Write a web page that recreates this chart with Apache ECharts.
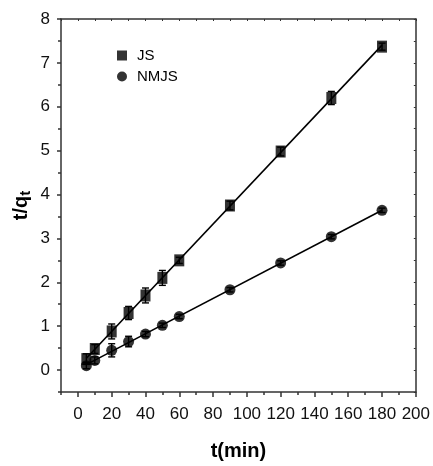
<!DOCTYPE html>
<html><head><meta charset="utf-8">
<script src="https://cdn.jsdelivr.net/npm/echarts@6/dist/echarts.min.js"></script>
<style>html,body{margin:0;padding:0;background:#fff}#c{width:433px;height:466px}</style>
</head><body><div id="c"></div>
<script>
const time = [5, 10, 20, 30, 40, 50, 60, 90, 120, 150, 180];
const jsVals = [0.25, 0.48, 0.88, 1.30, 1.70, 2.10, 2.50, 3.75, 4.98, 6.20, 7.37];
const jsErr = [0.12, 0.10, 0.17, 0.15, 0.17, 0.17, 0.07, 0.10, 0.10, 0.15, 0.08];
const nmjsVals = [0.10, 0.22, 0.45, 0.65, 0.82, 1.02, 1.22, 1.83, 2.44, 3.04, 3.64];
const nmjsErr = [0.07, 0.08, 0.15, 0.12, 0.06, 0.05, 0.05, 0.05, 0.05, 0.05, 0.05];
const xTicks = [0, 20, 40, 60, 80, 100, 120, 140, 160, 180, 200];
const xMinorTicks = [-10, 10, 30, 50, 70, 90, 110, 130, 150, 170, 190];
const yTicks = [0, 1, 2, 3, 4, 5, 6, 7, 8];
const yMinorTicks = [-0.5, 0.5, 1.5, 2.5, 3.5, 4.5, 5.5, 6.5, 7.5];

const FONT = '"Liberation Sans", Arial, sans-serif';
const AX = '#333';

function fit(xs, ys) {
  const n = xs.length;
  const mx = xs.reduce((a, b) => a + b, 0) / n;
  const my = ys.reduce((a, b) => a + b, 0) / n;
  let sxy = 0, sxx = 0;
  for (let i = 0; i < n; i++) { sxy += (xs[i] - mx) * (ys[i] - my); sxx += (xs[i] - mx) ** 2; }
  const b = sxy / sxx, a = my - b * mx;
  const x0 = xs[0], x1 = xs[n - 1];
  return [[x0, a + b * x0], [x1, a + b * x1]];
}

function pts(vals) { return time.map((t, i) => [t, vals[i]]); }
function errPts(vals, errs) { return time.map((t, i) => [t, vals[i], errs[i]]); }

function errRender(params, api) {
  const x = api.value(0), y = api.value(1), e = api.value(2);
  const top = api.coord([x, y + e]);
  const bot = api.coord([x, y - e]);
  const hw = 3.5;
  const st = { stroke: '#000', lineWidth: 1.4 };
  return {
    type: 'group',
    children: [
      { type: 'line', shape: { x1: top[0], y1: top[1], x2: bot[0], y2: bot[1] }, style: st },
      { type: 'line', shape: { x1: top[0] - hw, y1: top[1], x2: top[0] + hw, y2: top[1] }, style: st },
      { type: 'line', shape: { x1: bot[0] - hw, y1: bot[1], x2: bot[0] + hw, y2: bot[1] }, style: st }
    ]
  };
}

const allXTicks = xMinorTicks.concat(xTicks).sort((a, b) => a - b);
const allYTicks = yMinorTicks.concat(yTicks).sort((a, b) => a - b);

const chart = echarts.init(document.getElementById('c'), null, { renderer: 'canvas' });
chart.setOption({
  animation: false,
  backgroundColor: '#fff',
  textStyle: { fontFamily: FONT },
  grid: { left: 61, right: 13, top: 19, bottom: 69, containLabel: false },
  legend: {
    orient: 'vertical', left: 112, top: 43, itemGap: 6,
    itemWidth: 10, itemHeight: 10,
    textStyle: { fontFamily: FONT, fontSize: 15, color: '#000', padding: [0, 0, 0, 5] },
    data: [
      { name: 'JS', icon: 'rect', itemStyle: { color: '#000' } },
      { name: 'NMJS', icon: 'circle', itemStyle: { color: '#000' } }
    ]
  },
  xAxis: [
    {
      type: 'value', position: 'bottom', min: -10, max: 200,
      axisLine: { show: true, onZero: false, lineStyle: { color: AX, width: 1.5 } },
      axisTick: { show: true, inside: false, length: 5, customValues: xTicks, lineStyle: { color: AX, width: 1.5 } },
      axisLabel: { customValues: xTicks, fontSize: 17, color: '#111', margin: 14, fontFamily: FONT },
      splitLine: { show: false },
      name: 't(min)', nameLocation: 'middle', nameGap: 49,
      nameTextStyle: { fontSize: 20, fontWeight: 'bold', color: '#000', fontFamily: FONT }
    },
    {
      type: 'value', position: 'bottom', min: -10, max: 200,
      axisLine: { show: false, onZero: false },
      axisTick: { show: true, length: 3, customValues: xMinorTicks, lineStyle: { color: AX, width: 1.5 } },
      axisLabel: { show: false },
      splitLine: { show: false }
    },
    {
      type: 'value', position: 'top', min: -10, max: 200,
      axisLine: { show: true, onZero: false, lineStyle: { color: AX, width: 1.5 } },
      axisTick: { show: true, inside: true, length: 2, customValues: allXTicks, lineStyle: { color: AX, width: 1 } },
      axisLabel: { show: false },
      splitLine: { show: false }
    }
  ],
  yAxis: [
    {
      type: 'value', position: 'left', min: -0.5, max: 8,
      axisLine: { show: true, onZero: false, lineStyle: { color: AX, width: 1.5 } },
      axisTick: { show: true, inside: false, length: 4, customValues: yTicks, lineStyle: { color: AX, width: 1.5 } },
      axisLabel: { customValues: yTicks, fontSize: 17, color: '#111', margin: 11, fontFamily: FONT },
      splitLine: { show: false },
      name: 't/q{s|t}', nameLocation: 'middle', nameGap: 28, nameRotate: 90, nameMoveOverlap: false,
      nameTextStyle: {
        fontSize: 20, fontWeight: 'bold', color: '#000', fontFamily: FONT,
        rich: { s: { fontSize: 15, fontWeight: 'bold', color: '#000', fontFamily: FONT, padding: [9, 0, 0, 0] } }
      }
    },
    {
      type: 'value', position: 'left', min: -0.5, max: 8,
      axisLine: { show: false, onZero: false },
      axisTick: { show: true, length: 3, customValues: yMinorTicks, lineStyle: { color: AX, width: 1.5 } },
      axisLabel: { show: false },
      splitLine: { show: false }
    },
    {
      type: 'value', position: 'right', min: -0.5, max: 8,
      axisLine: { show: true, onZero: false, lineStyle: { color: AX, width: 1.5 } },
      axisTick: { show: true, inside: true, length: 2, customValues: allYTicks, lineStyle: { color: AX, width: 1 } },
      axisLabel: { show: false },
      splitLine: { show: false }
    }
  ],
  series: [
    { type: 'line', name: 'JS fit', data: fit(time, jsVals), showSymbol: false, symbol: 'none',
      lineStyle: { color: '#000', width: 1.6 }, silent: true, z: 2 },
    { type: 'line', name: 'NMJS fit', data: fit(time, nmjsVals), showSymbol: false, symbol: 'none',
      lineStyle: { color: '#000', width: 1.6 }, silent: true, z: 2 },
    { type: 'custom', name: 'JS err', renderItem: errRender, data: errPts(jsVals, jsErr), z: 3 },
    { type: 'custom', name: 'NMJS err', renderItem: errRender, data: errPts(nmjsVals, nmjsErr), z: 3 },
    { type: 'scatter', name: 'JS', data: pts(jsVals), symbol: 'rect', symbolSize: [10, 12],
      itemStyle: { color: '#000' }, z: 4 },
    { type: 'scatter', name: 'NMJS', data: pts(nmjsVals), symbol: 'circle', symbolSize: [11, 11],
      itemStyle: { color: '#000' }, z: 4 }
  ]
});
</script>
</body></html>
